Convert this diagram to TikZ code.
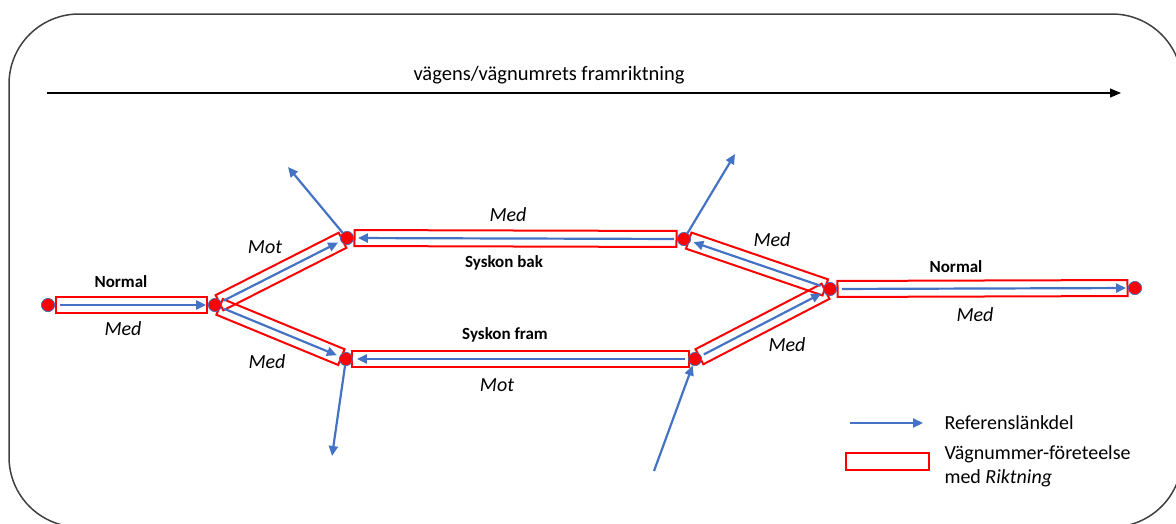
\documentclass[tikz,border=0pt]{standalone}
\usepackage{fontspec}
\setmainfont{Carlito}
\usetikzlibrary{arrows.meta,calc}
\definecolor{refblue}{HTML}{4472C4}
\definecolor{vred}{RGB}{255,0,0}
\newcommand\mylinkbox[4]{%
  \path let \p1=($(#2)-(#1)$), \n1={veclen(\x1,\y1)} in
    (#1.center) -- (#2.center) node[midway,sloped,linkbox,minimum width=\n1-#3,minimum height=#4] {};}
\begin{document}
\begin{tikzpicture}[x=1pt,y=-1pt,
  dot/.style={circle,fill=vred,draw=refblue,line width=0.8pt,minimum size=13pt,inner sep=0pt},
  linkbox/.style={draw=vred,line width=2pt,inner sep=0pt},
  refarrow/.style={draw=refblue,line width=2.2pt,-{Triangle[length=10pt,width=9pt]}},
  lbl/.style={font=\fontsize{20}{24}\selectfont\itshape},
  blbl/.style={font=\fontsize{17}{20}\selectfont\bfseries},
  txt/.style={font=\fontsize{20}{24}\selectfont}]
\useasboundingbox (0,0) rectangle (1176,523);
\draw[black!75,line width=1.5pt,rounded corners=70pt] (9,14) rectangle (1182,527);

% direction arrow
\coordinate (dirS) at (47,93);
\coordinate (dirE) at (1121,93);
\draw[line width=1.2pt,-{Triangle[length=11pt,width=9pt]}] (dirS) -- (dirE);
\node[font=\fontsize{20.5}{24}\selectfont] (dirT) at (549,75) {vägens/vägnumrets framriktning};

% dots (as named nodes; painted again on top at the end)
\node[dot] (A) at (48,305) {};
\node[dot] (B) at (215,305) {};
\node[dot] (C) at (347,238) {};
\node[dot] (D) at (684,239) {};
\node[dot] (E) at (830,289) {};
\node[dot] (F) at (1135,288) {};
\node[dot] (G) at (346,359) {};
\node[dot] (H) at (695,359) {};

% boxes
\mylinkbox{A}{B}{16pt}{16pt}
\mylinkbox{C}{D}{15pt}{16pt}
\mylinkbox{G}{H}{12pt}{16pt}
\mylinkbox{E}{F}{15pt}{16pt}
\mylinkbox{B}{C}{10pt}{17pt}
\mylinkbox{B}{G}{10pt}{17pt}
\mylinkbox{D}{E}{10pt}{17pt}
\mylinkbox{H}{E}{10pt}{17pt}

% reference arrows
\draw[refarrow,shorten <=5pt,shorten >=2pt] (A) -- (B);
\draw[refarrow,shorten <=3pt,shorten >=4pt] (D) -- (C);
\draw[refarrow,shorten <=3pt,shorten >=4pt] (H) -- (G);
\draw[refarrow,shorten <=5pt,shorten >=2pt] (E) -- (F);
\draw[refarrow,shorten <=3pt,shorten >=3pt] (B) -- (C);
\draw[refarrow,shorten <=3pt,shorten >=3pt] (B) -- (G);
\draw[refarrow,shorten <=3pt,shorten >=3pt] (E) -- (D);
\draw[refarrow,shorten <=3pt,shorten >=3pt] (H) -- (E);

% outgoing/incoming arrows
\coordinate (c1) at (288,167);
\coordinate (d1) at (735,154);
\coordinate (g1) at (332,456);
\coordinate (h1) at (654,471);
\draw[refarrow] (C) -- (c1);
\draw[refarrow] (D) -- (d1);
\draw[refarrow] (G) -- (g1);
\draw[refarrow] (h1) -- (H);

% dots on top
\foreach \n in {A,B,C,D,E,F,G,H}
  \filldraw[fill=vred,draw=refblue,line width=0.6pt] (\n) circle (6.5pt);

% labels
\node[blbl] (l1) at (121,282) {Normal};
\node[lbl] (l2) at (123,329) {Med};
\node[lbl] (l3) at (265,247) {Mot};
\node[lbl] (l4) at (267,362) {Med};
\node[lbl] (l5) at (508,215) {Med};
\node[blbl] (l6) at (504,263) {Syskon bak};
\node[blbl] (l7) at (505,335) {Syskon fram};
\node[lbl] (l8) at (497,385) {Mot};
\node[lbl] (l9) at (772,240) {Med};
\node[lbl] (l10) at (787,345) {Med};
\node[blbl] (l11) at (956,267) {Normal};
\node[lbl] (l12) at (975,315) {Med};

% legend
\coordinate (lgS) at (850,423);
\coordinate (lgE) at (923,423);
\draw[refarrow] (lgS) -- (lgE);
\node[draw=vred,line width=2pt,minimum width=83pt,minimum height=17pt,inner sep=0pt] (lgBox) at (887,461) {};
\node[txt,anchor=west] (lgT1) at (941,423) {Referenslänkdel};
\node[txt,anchor=west,align=left] (lgT2) at (941,466) {Vägnummer-företeelse\\med \textit{Riktning}};
\end{tikzpicture}
\end{document}
